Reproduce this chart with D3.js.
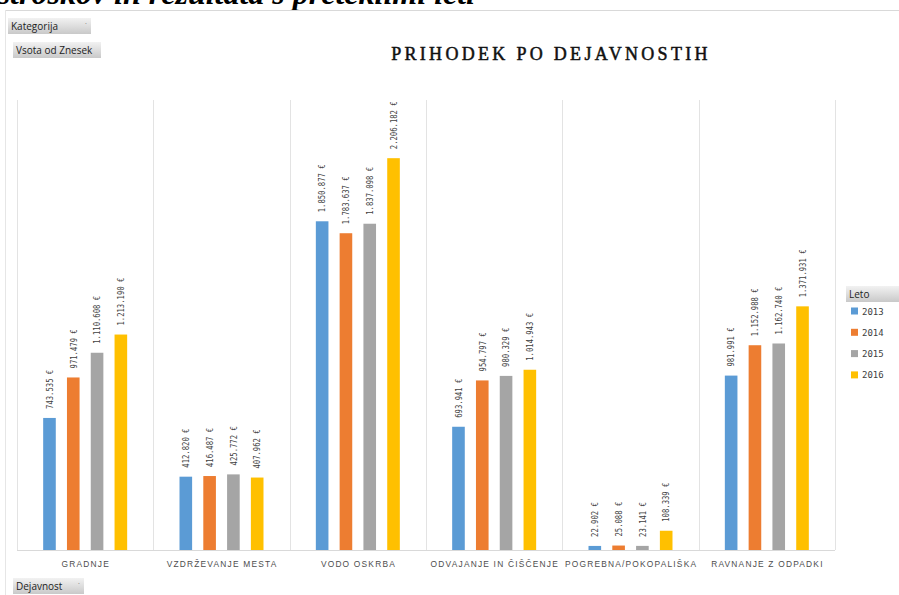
<!DOCTYPE html>
<html><head><meta charset="utf-8">
<script src="https://cdn.jsdelivr.net/npm/d3@7"></script>
<style>body{margin:0;background:#fff;overflow:hidden}svg{display:block}</style>
</head><body>
<svg id="c" width="899" height="595"></svg>
<script>
const categories = ["GRADNJE","VZDRŽEVANJE MESTA","VODO OSKRBA","ODVAJANJE IN ČIŠČENJE","POGREBNA/POKOPALIŠKA","RAVNANJE Z ODPADKI"];
const years = ["2013","2014","2015","2016"];
const v2013 = [743535, 412820, 1850877, 693941, 22902, 981991];
const v2014 = [971479, 416487, 1783637, 954797, 25088, 1152988];
const v2015 = [1110608, 425772, 1837098, 980329, 23141, 1162740];
const v2016 = [1213190, 407962, 2206182, 1014943, 108339, 1371931];
const seriesValues = [v2013, v2014, v2015, v2016];
const colors = ["#5B9BD5","#ED7D31","#A5A5A5","#FFC000"];

const svg = d3.select("#c");
const defs = svg.append("defs");
const g1 = defs.append("linearGradient").attr("id","btn").attr("x1",0).attr("y1",0).attr("x2",0).attr("y2",1);
g1.append("stop").attr("offset","0%").attr("stop-color","#f2f2f2");
g1.append("stop").attr("offset","100%").attr("stop-color","#c9c9c9");

// cropped heading at top
svg.append("text").attr("x",475).attr("y",4).attr("text-anchor","end")
  .style("font-family","Liberation Serif").style("font-weight","bold").style("font-style","italic")
  .style("font-size","32px").attr("fill","#000").text("Prikaz stroškov in rezultata s preteklimi leti");

// chart border
svg.append("line").attr("x1",5).attr("x2",899).attr("y1",10.5).attr("y2",10.5).attr("stroke","#d9d9d9");
svg.append("line").attr("x1",5.5).attr("x2",5.5).attr("y1",10).attr("y2",595).attr("stroke","#e6e6e6");

// buttons
function button(x,y,w,label,arrow){
  svg.append("rect").attr("x",x).attr("y",y).attr("width",w).attr("height",16).attr("fill","url(#btn)");
  svg.append("text").attr("x",x+3).attr("y",y+12).style("font-family","Open Sans").style("font-size","10px").attr("fill","#222").text(label);
  if(arrow) svg.append("text").attr("x",x+w-6).attr("y",y+8).style("font-family","Open Sans").style("font-size","7px").attr("fill","#666").text("·");
}
button(8,18,83,"Kategorija",true);
button(13,42,88,"Vsota od Znesek",false);
button(13,578,71,"Dejavnost",true);

// title
svg.append("text").attr("x",551).attr("y",60).attr("text-anchor","middle")
  .style("font-family","Liberation Serif").style("font-size","18px").style("letter-spacing","3.3px")
  .attr("fill","#111").attr("stroke","#111").attr("stroke-width",0.5).text("PRIHODEK PO DEJAVNOSTIH");

// scales
const x0 = d3.scaleBand().domain(categories).range([17,835]);
const x1 = d3.scaleBand().domain(years).range([0, x0.bandwidth()]).paddingInner(0.47).paddingOuter(1.1);
const y = d3.scaleLinear().domain([0,2500000]).range([550,106]);

// gridlines (category separators)
const seps = categories.map(c=>x0(c)).concat([x0.range()[1]]);
svg.selectAll(".sep").data(seps).enter().append("line")
  .attr("x1",d=>Math.round(d)+0.5).attr("x2",d=>Math.round(d)+0.5).attr("y1",100).attr("y2",550)
  .attr("stroke","#e3e3e3");
svg.append("line").attr("x1",17).attr("x2",835).attr("y1",550.5).attr("y2",550.5).attr("stroke","#d9d9d9");

const fmt = v => d3.format(",")(v).replace(/,/g,".") + " €";

years.forEach((yr,si)=>{
  const vals = seriesValues[si];
  const g = svg.append("g");
  g.selectAll("rect").data(categories).enter().append("rect")
    .attr("x",(c)=>x0(c)+x1(yr)).attr("width",x1.bandwidth())
    .attr("y",(c,i)=>y(vals[i])).attr("height",(c,i)=>550-y(vals[i]))
    .attr("fill",colors[si]);
  g.selectAll("text").data(categories).enter().append("text")
    .attr("transform",(c,i)=>`translate(${x0(c)+x1(yr)+x1.bandwidth()/2+3.3},${y(vals[i])-9}) rotate(-90)`)
    .style("font-family","DejaVu Sans Mono").style("font-size","9.5px").attr("fill","#404040")
    .attr("textLength",(c,i)=>fmt(vals[i]).length*4.35).attr("lengthAdjust","spacingAndGlyphs")
    .text((c,i)=>fmt(vals[i]));
});

// x labels
svg.selectAll(".xl").data(categories).enter().append("text")
  .attr("x",c=>x0(c)+x0.bandwidth()/2+0.6).attr("y",567).attr("text-anchor","middle")
  .style("font-family","Liberation Sans").style("font-size","8.4px").style("letter-spacing","1.2px")
  .attr("fill","#4d4d4d").text(c=>c);

// legend
svg.append("rect").attr("x",846).attr("y",286).attr("width",53).attr("height",16).attr("fill","url(#btn)");
svg.append("text").attr("x",849).attr("y",298).style("font-family","Open Sans").style("font-size","10px").attr("fill","#222").text("Leto");
years.forEach((yr,i)=>{
  const cy = 311 + i*21.3;
  svg.append("rect").attr("x",851).attr("y",cy-3.5).attr("width",7).attr("height",7).attr("fill",colors[i]);
  svg.append("text").attr("x",862).attr("y",cy+3.5).style("font-family","DejaVu Sans Mono").style("font-size","9px")
    .attr("fill","#404040").text(yr);
});
</script>
</body></html>
